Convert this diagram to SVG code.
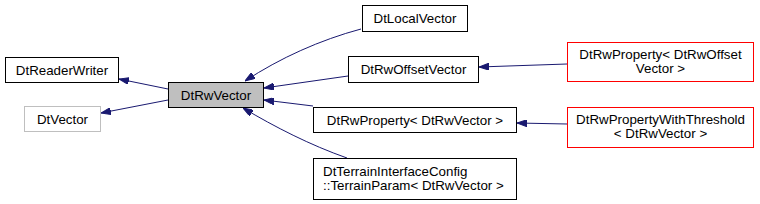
<svg xmlns="http://www.w3.org/2000/svg" width="760" height="204" viewBox="0 0 760 204">
<defs>
<style>
.n{fill:#ffffff;stroke:#000000;stroke-width:1}
.g{fill:#ffffff;stroke:#bfbfbf;stroke-width:1}
.r{fill:#ffffff;stroke:#ff0000;stroke-width:1}
.c{fill:#bfbfbf;stroke:#000000;stroke-width:1}
text{font-family:"Liberation Sans",Arial,sans-serif;font-size:13.33px;fill:#000000}
.m{text-anchor:middle}
.e{fill:none;stroke:#191970;stroke-width:1}
</style>
<marker id="ah" viewBox="0 0 10 7" refX="10" refY="3.5" markerWidth="10" markerHeight="7" markerUnits="userSpaceOnUse" orient="auto">
<path d="M0,0 L10,3.5 L0,7 z" fill="#191970" stroke="#191970"/>
</marker>
</defs>
<rect width="760" height="204" fill="#ffffff"/>
<g id="edges">
<path class="e" d="M168,89 L119,79" marker-end="url(#ah)"/>
<path class="e" d="M168,100 L101,113" marker-end="url(#ah)"/>
<path class="e" d="M361,29 C320,40 280,58 245,81" marker-end="url(#ah)"/>
<path class="e" d="M348,76 L264,88" marker-end="url(#ah)"/>
<path class="e" d="M313,106 L264,100" marker-end="url(#ah)"/>
<path class="e" d="M347,158 C310,145 275,127 243,108" marker-end="url(#ah)"/>
<path class="e" d="M567,64 L479,67" marker-end="url(#ah)"/>
<path class="e" d="M567,124 L517,123" marker-end="url(#ah)"/>
</g>
<g id="DtReaderWriter">
<rect class="n" x="5.5" y="57.5" width="113" height="25"/>
<text class="m" x="62" y="74.5">DtReaderWriter</text>
</g>
<g id="DtVector">
<rect class="g" x="24.5" y="106.5" width="76" height="25"/>
<text class="m" x="62.5" y="123.5">DtVector</text>
</g>
<g id="DtRwVector">
<rect class="c" x="168.5" y="82.5" width="95" height="25"/>
<text class="m" x="216" y="99.5">DtRwVector</text>
</g>
<g id="DtLocalVector">
<rect class="n" x="362.5" y="5.5" width="105" height="26"/>
<text class="m" x="415" y="23">DtLocalVector</text>
</g>
<g id="DtRwOffsetVector">
<rect class="n" x="348.5" y="56.5" width="130" height="26"/>
<text class="m" x="413.5" y="74">DtRwOffsetVector</text>
</g>
<g id="DtRwPropertyDtRwVector">
<rect class="n" x="313.5" y="107.5" width="203" height="25"/>
<text class="m" x="415" y="124.5">DtRwProperty&lt; DtRwVector &gt;</text>
</g>
<g id="TerrainParam">
<rect class="n" x="313.5" y="158.5" width="203" height="41"/>
<text x="323" y="176">DtTerrainInterfaceConfig</text>
<text x="323" y="190">::TerrainParam&lt; DtRwVector &gt;</text>
</g>
<g id="DtRwPropertyDtRwOffsetVector">
<rect class="r" x="567.5" y="42.5" width="186" height="39"/>
<text class="m" x="660.5" y="59">DtRwProperty&lt; DtRwOffset</text>
<text class="m" x="660.5" y="73">Vector &gt;</text>
</g>
<g id="DtRwPropertyWithThreshold">
<rect class="r" x="567.5" y="107.5" width="186" height="40" stroke="#ff0000"/>
<text class="m" x="660.5" y="124">DtRwPropertyWithThreshold</text>
<text class="m" x="660.5" y="138">&lt; DtRwVector &gt;</text>
</g>
</svg>
